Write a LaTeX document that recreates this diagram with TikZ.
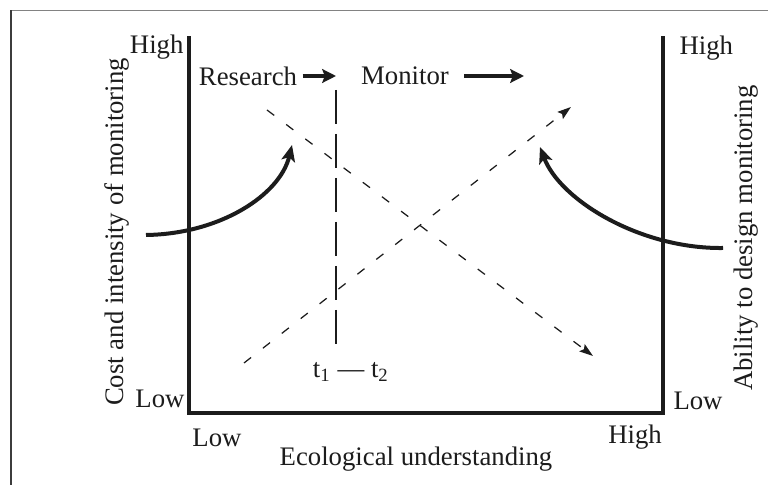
\documentclass[tikz,border=0pt]{standalone}
\usepackage{fontspec}
\setmainfont{Liberation Serif}
\usepackage{tikz}
\usetikzlibrary{arrows.meta, positioning}
\definecolor{inkblack}{RGB}{28, 28, 28}
\definecolor{framegray}{RGB}{130, 130, 130}
\definecolor{framedark}{RGB}{60, 60, 60}

\begin{document}
\begin{tikzpicture}[
    x=0.4pt, y=-0.4pt,
    every node/.style={
        font=\fontsize{10.7}{12}\selectfont,
        text=inkblack,
        inner sep=0pt
    },
    axisline/.style={
        line width=1.5pt,
        draw=inkblack,
        line cap=rect
    },
    phasearrow/.style={
        line width=1.6pt,
        draw=inkblack,
        -{Stealth[length=5.5pt, width=5.5pt, inset=1pt]}
    },
    curvearrow/.style={
        line width=1.6pt,
        draw=inkblack,
        -{Stealth[length=6.5pt, width=5.5pt, inset=1.5pt]}
    },
    trendarrow/.style={
        line width=0.5pt,
        draw=inkblack,
        dash pattern=on 3.6pt off 6pt,
        -{Stealth[length=5.5pt, width=3.6pt, inset=1pt]}
    },
    switchline/.style={
        line width=0.8pt,
        draw=inkblack,
        dash pattern=on 13.6pt off 4pt
    }
]
\useasboundingbox (0,0) rectangle (768,485);

% ==================== FRAME ====================
\draw [line width=0.6pt, draw=framegray] (11,10.5) -- (768,10.5);
\draw [line width=0.6pt, draw=framedark] (11,10.5) -- (11,485);

% ==================== AXES ====================
\coordinate (ax_tl) at (189,38);
\coordinate (ax_bl) at (189,413);
\coordinate (ax_br) at (663,413);
\coordinate (ax_tr) at (663,38);
\draw [axisline] (ax_tl) -- (ax_bl) -- (ax_br) -- (ax_tr);

\node (hi_left) [anchor=east] at (184,47) {High};
\node (lo_left) [anchor=east] at (185,399) {Low};
\node (hi_right) [anchor=west] at (679,48) {High};
\node (lo_right) [anchor=west] at (673,401) {Low};
\node (lo_bottom) at (217,438) {Low};
\node (hi_bottom) at (635,437) {High};
\node (eco_label) at (416,459) {Ecological understanding};
\node (cost_label) [rotate=90] at (117,232) {Cost and intensity of monitoring};
\node (ability_label) [rotate=90] at (746,238) {Ability to design monitoring};

% ==================== PHASES ====================
\node (research) at (248,76) {Research};
\node (monitor) at (405,76) {Monitor};
\coordinate (research_end) at (336,76);
\coordinate (monitor_end) at (524,76);
\draw [phasearrow, shorten <=2pt] (research.east) -- (research_end);
\draw [phasearrow, shorten <=6pt] (monitor.east) -- (monitor_end);

\node (tt_label) at (351,372) {t\textsubscript{1} --- t\textsubscript{2}};
\coordinate (t_top) at (336,90);
\coordinate (t_bot) at (336,352);
\draw [switchline] (t_top) -- (t_bot);

% ==================== TRENDS ====================
\coordinate (cost_start) at (267,110);
\coordinate (cost_end) at (593,356);
\coordinate (ability_start) at (244,363);
\coordinate (ability_end) at (571,107);
\draw [trendarrow] (cost_start) -- (cost_end);
\draw [trendarrow] (ability_start) -- (ability_end);

% curved pointers from the axis labels
\coordinate (cost_tail) at (146,235);
\coordinate (cost_tip) at (292,145);
\coordinate (ability_tail) at (723,248);
\coordinate (ability_tip) at (540,147);
\draw [curvearrow] (cost_tail) .. controls (220,234) and (280,195) .. (cost_tip);
\draw [curvearrow] (ability_tail) .. controls (640,249) and (560,200) .. (ability_tip);

\end{tikzpicture}
\end{document}
